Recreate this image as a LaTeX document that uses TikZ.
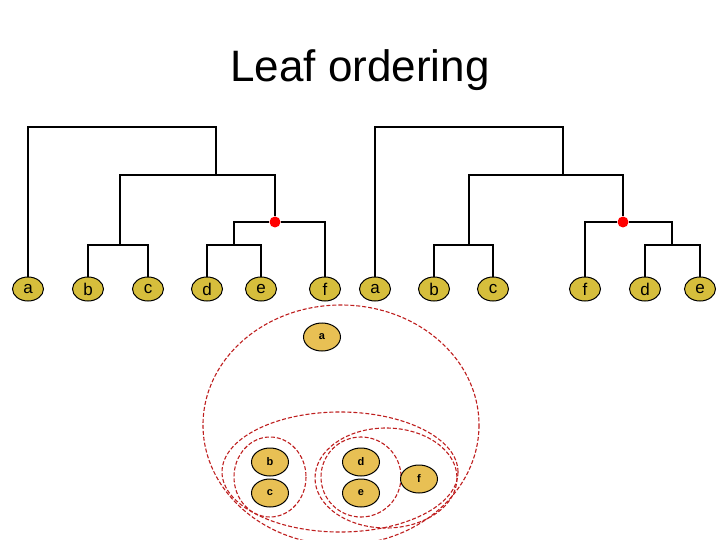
\documentclass[tikz,border=0pt]{standalone}
\usepackage{fontspec}
\setmainfont{Liberation Sans}
\usetikzlibrary{shapes.geometric}
\definecolor{leafy}{RGB}{214,190,60}
\definecolor{sleafy}{RGB}{232,192,84}
\definecolor{grpred}{RGB}{190,30,30}
\begin{document}
\begin{tikzpicture}[x=1pt,y=-1pt,
  leaf/.style={ellipse,draw=black,line width=1pt,fill=leafy,minimum width=31pt,minimum height=24pt,inner sep=0pt,font=\fontsize{17}{17}\selectfont},
  sleaf/.style={ellipse,draw=black,line width=1pt,fill=sleafy,minimum width=37pt,minimum height=28pt,inner sep=0pt,font=\bfseries\fontsize{11}{11}\selectfont},
  br/.style={line width=2pt,black},
  dot/.style={circle,fill=red,inner sep=0pt,minimum size=11pt},
  grp/.style={draw=grpred,dash pattern=on 4pt off 2pt,line width=1.1pt}]
\useasboundingbox (0,0) rectangle (720,540);
\node (title) at (360,70) {\fontsize{44}{44}\selectfont Leaf ordering};
\foreach \n/\x/\t in {la/28/a,lb/88/b,lc/148/c,ld/207/d,le/261/e,lf/325/f,ra/375/a,rb/434/b,rc/493/c,rf/585/f,rd/645/d,re/700/e}
  \node[leaf] (\n) at (\x,289) {\t};
\node[dot] (lr) at (275,222) {};
\node[dot] (rr) at (623,222) {};
\draw[br] (la.north) |- (216,127) -- (216,175);
\draw[br] (120,245) |- (275,175) -- (lr);
\draw[br] (lb.north) |- (120,245) -| (lc.north);
\draw[br] (ld.north) |- (234,245) -| (le.north);
\draw[br] (234,245) |- (lr) -| (lf.north);
\draw[br] (ra.north) |- (563,127) -- (563,175);
\draw[br] (469,245) |- (623,175) -- (rr);
\draw[br] (rb.north) |- (469,245) -| (rc.north);
\draw[br] (rd.north) |- (672,245) -| (re.north);
\draw[br] (672,245) |- (rr) -| (rf.north);
\draw[grp] (341,425) ellipse [x radius=138, y radius=120];
\draw[grp] (340,472) ellipse [x radius=118, y radius=60];
\draw[grp] (386,478) ellipse [x radius=71, y radius=50];
\draw[grp] (270,477) ellipse [x radius=36, y radius=40];
\draw[grp] (361,477) ellipse [x radius=40, y radius=40];
\node[sleaf] (sa) at (322,337) {a};
\node[sleaf] (sb) at (270,462) {b};
\node[sleaf] (sc) at (270,493) {c};
\node[sleaf] (sd) at (361,462) {d};
\node[sleaf] (se) at (361,493) {e};
\node[sleaf] (sf) at (419,479) {f};
\end{tikzpicture}
\end{document}
